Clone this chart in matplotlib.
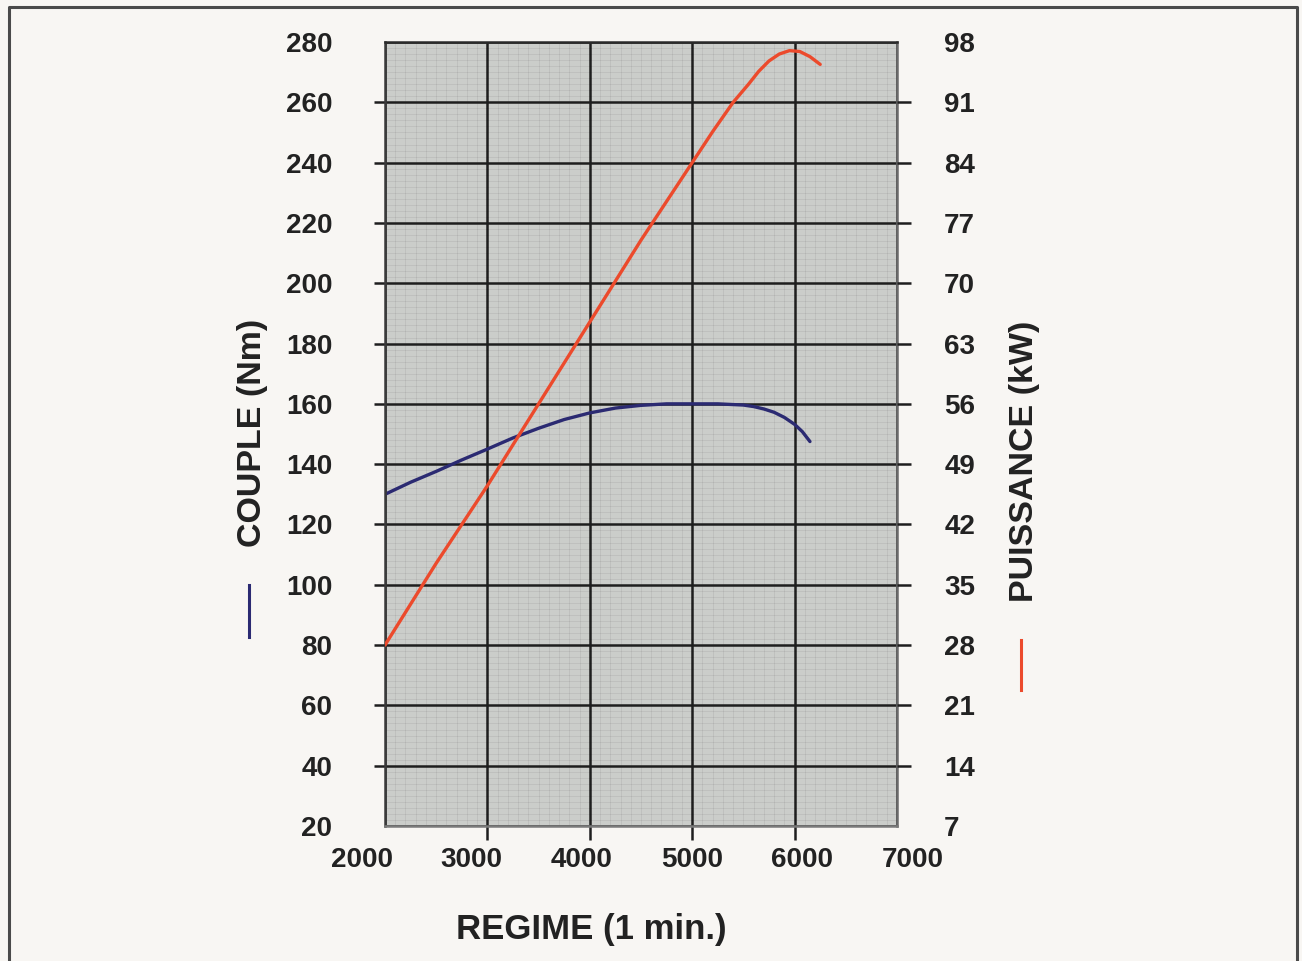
import matplotlib
matplotlib.use("Agg")
import matplotlib.pyplot as plt
from matplotlib.lines import Line2D

# couple (Nm) en fonction du regime
regime_couple = [2000, 2250, 2500, 2750, 3000, 3250, 3500, 3750, 4000, 4250, 4500,
                 4750, 5000, 5250, 5500, 5600, 5700, 5800, 5900, 6000, 6075, 6150]
couple = [130, 134, 137.6, 141.4, 145, 148.7, 151.9, 154.8, 157, 158.6, 159.5,
          160, 160, 160, 159.6, 159.1, 158.3, 157.2, 155.5, 153.2, 150.8, 147.5]

# puissance (kW) en fonction du regime
regime_puissance = [2000, 2500, 3000, 3500, 4000, 4500, 5000, 5200, 5400, 5550,
                    5650, 5750, 5850, 5950, 6050, 6150, 6250]
puissance = [28, 37.5, 46.5, 56, 65.5, 75, 84, 87.6, 91, 93.1,
             94.6, 95.8, 96.6, 97, 96.9, 96.3, 95.4]

x_ticks = [2000, 3000, 4000, 5000, 6000, 7000]
couple_ticks = list(range(20, 281, 20))
puissance_ticks = list(range(7, 99, 7))

plt.rcParams['font.family'] = ['Liberation Sans', 'DejaVu Sans']
plt.rcParams['font.weight'] = 'bold'

TXT = '#222222'
BLEU = '#2b2a72'
ROUGE = '#ec4a2c'
GRILLE = '#1e1e1e'

fig = plt.figure(figsize=(13.02, 9.61), dpi=100, facecolor='#f8f6f3')
ax = fig.add_axes([385 / 1302, 1 - 826 / 961, 512 / 1302, 784 / 961])
ax.set_facecolor('#cbcdca')

ax.set_xlim(2000, 7000)
ax.set_ylim(20, 280)
ax.set_xticks(x_ticks)
ax.set_yticks(couple_ticks)
# trame fine du papier millimetre (transparente pour ne pas eclaircir la grille)
ax.set_xticks([v for v in range(2000, 7001, 100) if v % 1000], minor=True)
ax.set_yticks([v for v in range(20, 281, 2) if v % 20], minor=True)
ax.grid(which='minor', color='black', alpha=0.07, lw=0.6)
ax.grid(which='major', color=GRILLE, lw=1.8)
ax.set_axisbelow(True)
ax.tick_params(which='minor', length=0)
ax.tick_params(axis='y', which='major', length=8, width=1.8, color=GRILLE,
               pad=30, labelsize=20, labelcolor=TXT)
ax.tick_params(axis='x', which='major', length=10, width=1.8, color=GRILLE,
               labelbottom=False)

for side, col in (('top', '#2a2a2a'), ('left', '#3a3a3a'),
                  ('bottom', '#7a7a7a'), ('right', '#6a6a6a')):
    ax.spines[side].set_color(col)
    ax.spines[side].set_linewidth(1.8)

# etiquettes du regime, legerement decalees comme sur l'original
for v in x_ticks:
    ax.annotate(str(v), xy=(v, 0), xycoords=('data', 'axes fraction'),
                xytext=((v - 5000) / 1000 * 7.8, -34), textcoords='offset pixels',
                ha='center', va='center', fontsize=20, color=TXT)

ax.plot(regime_couple, couple, color=BLEU, lw=2.4, solid_capstyle='round',
        solid_joinstyle='round')

ax2 = ax.twinx()
ax2.set_ylim(7, 98)
ax2.set_yticks(puissance_ticks)
ax2.tick_params(axis='y', length=10, width=1.8, color=GRILLE, pad=24,
                labelsize=20, labelcolor=TXT)
for s in ax2.spines.values():
    s.set_visible(False)
ax2.plot(regime_puissance, puissance, color=ROUGE, lw=2.4, solid_capstyle='round',
         solid_joinstyle='round')

# pas de traits qui depassent aux extremites du cadre
for t in (ax.yaxis.get_major_ticks()[0], ax.yaxis.get_major_ticks()[-1],
          ax.xaxis.get_major_ticks()[0], ax.xaxis.get_major_ticks()[-1]):
    t.tick1line.set_visible(False)
for t in (ax2.yaxis.get_major_ticks()[0], ax2.yaxis.get_major_ticks()[-1]):
    t.tick2line.set_visible(False)

fig.text(253 / 1302, 1 - 433 / 961, 'COUPLE (Nm)', rotation=90, ha='center',
         va='center', fontsize=24.5, color=TXT)
fig.text(1025 / 1302, 1 - 461 / 961, 'PUISSANCE (kW)', rotation=90, ha='center',
         va='center', fontsize=24.5, color=TXT)
fig.text(591 / 1302, 1 - 930 / 961, 'REGIME (1 min.)', ha='center', va='center',
         fontsize=25, color=TXT)

# petits reperes de couleur sous les titres d'axes
fig.add_artist(Line2D([249 / 1302] * 2, [1 - 585 / 961, 1 - 637 / 961],
                      color=BLEU, lw=2.2))
fig.add_artist(Line2D([1021 / 1302] * 2, [1 - 640 / 961, 1 - 690 / 961],
                      color=ROUGE, lw=2.2))

# cadre de la page
fig.add_artist(Line2D([9 / 1302, 9 / 1302, 1297 / 1302, 1297 / 1302],
                      [-0.01, 1 - 7 / 961, 1 - 7 / 961, -0.01],
                      color='#4a4a4a', lw=2.2))

fig.savefig('out.png', dpi=100, facecolor=fig.get_facecolor())
